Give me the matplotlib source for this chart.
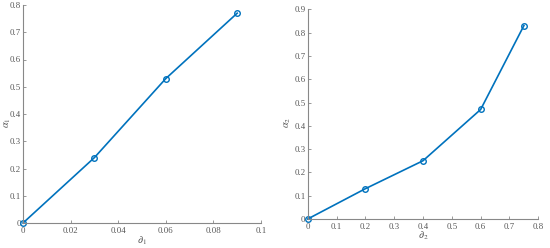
import matplotlib
matplotlib.use("Agg")
import matplotlib.pyplot as plt

plt.rcParams['font.family'] = ['Liberation Serif', 'DejaVu Serif']
plt.rcParams['mathtext.fontset'] = 'stix'

x1 = [0, 0.03, 0.06, 0.09]
y1 = [0, 0.24, 0.53, 0.77]
x2 = [0, 0.2, 0.4, 0.6, 0.75]
y2 = [0, 0.13, 0.25, 0.47, 0.83]

xt1 = [0, 0.02, 0.04, 0.06, 0.08, 0.1]
yt1 = [0, 0.1, 0.2, 0.3, 0.4, 0.5, 0.6, 0.7, 0.8]
xt2 = [0, 0.1, 0.2, 0.3, 0.4, 0.5, 0.6, 0.7, 0.8]
yt2 = [0, 0.1, 0.2, 0.3, 0.4, 0.5, 0.6, 0.7, 0.8, 0.9]

W, H = 550, 248
fig = plt.figure(figsize=(5.5, 2.48), dpi=100)
ax1 = fig.add_axes([23/W, 25/H, (261-23)/W, (223-5)/H])
ax2 = fig.add_axes([307.7/W, 29/H, (538.3-307.7)/W, (219-9.3)/H])

blue = '#0072BD'
grey = '#555555'

def style(ax, xt, yt, xl, yl, xlab, ylab, xlc, ylc):
    for s in ['top', 'right']:
        ax.spines[s].set_visible(False)
    for s in ['left', 'bottom']:
        ax.spines[s].set_color('#888888')
        ax.spines[s].set_linewidth(0.8)
    ax.set_xlim(*xl)
    ax.set_ylim(*yl)
    ax.set_xticks(xt)
    ax.set_yticks(yt)
    ax.set_xticklabels([f'{v:g}' for v in xt])
    ax.set_yticklabels([f'{v:g}' for v in yt])
    ax.tick_params(direction='in', length=2.5, width=0.6, color='#888888',
                   labelsize=6.3, labelcolor=grey)
    ax.tick_params(axis='x', pad=3)
    ax.tick_params(axis='y', pad=1.5)
    ax.set_xlabel(xlab, fontsize=7.5, color=grey, va='center')
    ax.set_ylabel(ylab, fontsize=7.5, color=grey, va='center')
    ax.xaxis.set_label_coords(0.5, xlc)
    ax.yaxis.set_label_coords(ylc, 0.46)

ax1.plot(x1, y1, color=blue, lw=1.2, marker='o', ms=4, mfc='none', mew=1.0, clip_on=False)
style(ax1, xt1, yt1, (0, 0.1), (0, 0.8), r'$\partial_1$', r'$\alpha_1$',
      (223-241)/218, (8-23)/238)

ax2.plot(x2, y2, color=blue, lw=1.2, marker='o', ms=4, mfc='none', mew=1.0, clip_on=False)
style(ax2, xt2, yt2, (0, 0.8), (0, 0.9), r'$\partial_2$', r'$\alpha_2$',
      (219-236)/209.7, (288-307.7)/230.6)

fig.savefig('out.png', dpi=100)
